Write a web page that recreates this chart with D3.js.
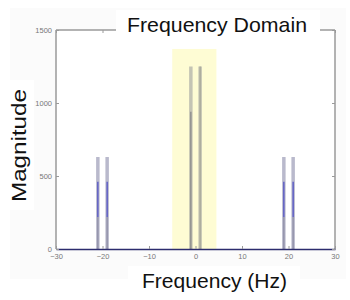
<!DOCTYPE html>
<html>
<head>
<meta charset="utf-8">
<script src="https://cdn.jsdelivr.net/npm/d3@7"></script>
<style>
  body { margin: 0; background: #fff; }
  svg { display: block; }
  text { font-family: "Liberation Sans", Arial, sans-serif; }
</style>
</head>
<body>
<svg id="chart" width="350" height="300"></svg>
<script>
(function(){
    "use strict";

    // peaks of the spectrum
    var peakFreqs = [-21, -19, -1, 1, 19, 21];
    var peakMags  = [630, 630, 1250, 1250, 630, 630];
    // inner (coloured) segment of each stem
    var innerLow  = [0, 0, 0, 0, 0, 0];
    var innerMid  = [220, 220, 940, 1250, 220, 220];
    var innerHigh = [460, 460, 940, 1250, 460, 460];
    var innerKind = ["side", "side", "center", "center", "side", "side"];

    var xTicks = [-30, -20, -10, 0, 10, 20, 30];
    var yTicks = [0, 500, 1000, 1500];

    var highlightBand = [-5, 4.5];
    var highlightTop = 1370;

    var titleText = "Frequency Domain";
    var xLabel = "Frequency (Hz)";
    var yLabel = "Magnitude";

    var svg = d3.select("#chart");

    var left = 56, right = 335, top = 30, bottom = 249;

    var x = d3.scaleLinear().domain([-30, 30]).range([left, right]);
    var y = d3.scaleLinear().domain([0, 1500]).range([bottom, top]);

    // faint figure background, white axes area
    svg.append("rect").attr("x", 10).attr("y", 8).attr("width", 336).attr("height", 271)
        .attr("fill", "#fbfbfb");
    svg.append("rect").attr("x", left).attr("y", top).attr("width", right - left).attr("height", bottom - top)
        .attr("fill", "#fff");

    // highlighted band around 0 Hz
    svg.append("rect")
        .attr("x", x(highlightBand[0]))
        .attr("y", y(highlightTop))
        .attr("width", x(highlightBand[1]) - x(highlightBand[0]))
        .attr("height", y(0) - y(highlightTop))
        .attr("fill", "#fefcd4");

    var peaks = peakFreqs.map(function(f, i){
        return {f: f, m: peakMags[i], lo: innerLow[i], mid: innerMid[i], hi: innerHigh[i], kind: innerKind[i]};
    });

    // outer stem
    svg.selectAll("line.outer")
        .data(peaks)
        .enter().append("line")
        .attr("class", "outer")
        .attr("x1", function(d){ return x(d.f); })
        .attr("x2", function(d){ return x(d.f); })
        .attr("y1", y(0))
        .attr("y2", function(d){ return y(d.m); })
        .attr("stroke", function(d){ return d.kind == "side" ? "#b9b9cc" : "#c4c4b4"; })
        .attr("stroke-width", 3.5);

    // inner lower segment
    svg.selectAll("line.innerlow")
        .data(peaks)
        .enter().append("line")
        .attr("class", "innerlow")
        .attr("x1", function(d){ return x(d.f); })
        .attr("x2", function(d){ return x(d.f); })
        .attr("y1", function(d){ return y(d.lo); })
        .attr("y2", function(d){ return y(d.mid); })
        .attr("stroke", function(d, i){
            if(d.kind == "side") return "#8e8ea6";
            return i == 2 ? "#8a8a8a" : "#a8a89a";
        })
        .attr("stroke-width", 1.3);

    // inner upper (blue) segment of the side peaks
    svg.selectAll("line.innerhigh")
        .data(peaks.filter(function(d){ return d.hi > d.mid; }))
        .enter().append("line")
        .attr("class", "innerhigh")
        .attr("x1", function(d){ return x(d.f); })
        .attr("x2", function(d){ return x(d.f); })
        .attr("y1", function(d){ return y(d.mid); })
        .attr("y2", function(d){ return y(d.hi); })
        .attr("stroke", "#5252c4")
        .attr("stroke-width", 1.3);

    // axes box
    var axisColor = "#9a9a9a";
    svg.append("line").attr("x1", left).attr("x2", left).attr("y1", top).attr("y2", bottom)
        .attr("stroke", axisColor).attr("stroke-width", 1.5);
    svg.append("line").attr("x1", right).attr("x2", right).attr("y1", top).attr("y2", bottom)
        .attr("stroke", axisColor).attr("stroke-width", 1.5);
    svg.append("line").attr("x1", left).attr("x2", right).attr("y1", top).attr("y2", top)
        .attr("stroke", axisColor).attr("stroke-width", 1.5);

    // bottom axis with inward ticks
    var xAxis = d3.axisBottom(x).tickValues(xTicks).tickSizeInner(-3).tickSizeOuter(0).tickPadding(5)
        .tickFormat(d3.format("d"));
    var gx = svg.append("g").attr("transform", "translate(0," + bottom + ")").call(xAxis);
    gx.select(".domain").attr("stroke", "#2c2c6e").attr("stroke-width", 1.5);
    gx.selectAll(".tick line").attr("stroke", axisColor);
    gx.selectAll(".tick text").attr("fill", "#777").style("font-size", "7.5px");

    // top ticks
    var xTop = d3.axisTop(x).tickValues(xTicks).tickSizeInner(-3).tickSizeOuter(0).tickFormat("");
    var gxt = svg.append("g").attr("transform", "translate(0," + top + ")").call(xTop);
    gxt.select(".domain").remove();
    gxt.selectAll(".tick line").attr("stroke", axisColor);

    // left axis
    var yAxis = d3.axisLeft(y).tickValues(yTicks).tickSizeInner(-3).tickSizeOuter(0).tickPadding(4)
        .tickFormat(d3.format("d"));
    var gy = svg.append("g").attr("transform", "translate(" + left + ",0)").call(yAxis);
    gy.select(".domain").remove();
    gy.selectAll(".tick line").attr("stroke", axisColor);
    gy.selectAll(".tick text").attr("fill", "#777").style("font-size", "7.5px");

    // right ticks
    var yRight = d3.axisRight(y).tickValues(yTicks).tickSizeInner(-3).tickSizeOuter(0).tickFormat("");
    var gyr = svg.append("g").attr("transform", "translate(" + right + ",0)").call(yRight);
    gyr.select(".domain").remove();
    gyr.selectAll(".tick line").attr("stroke", axisColor);

    // labels pasted over the figure on white
    svg.append("rect").attr("x", 116).attr("y", 10).attr("width", 204).attr("height", 30).attr("fill", "#fff");
    svg.append("text").attr("x", 127).attr("y", 32)
        .attr("textLength", 180).attr("lengthAdjust", "spacingAndGlyphs")
        .style("font-size", "21px").attr("fill", "#111").text(titleText);

    svg.append("rect").attr("x", 128).attr("y", 266).attr("width", 172).attr("height", 30).attr("fill", "#fff");
    svg.append("text").attr("x", 142).attr("y", 288)
        .attr("textLength", 145).attr("lengthAdjust", "spacingAndGlyphs")
        .style("font-size", "20px").attr("fill", "#111").text(xLabel);

    svg.append("rect").attr("x", 6).attr("y", 80).attr("width", 28).attr("height", 130).attr("fill", "#fff");
    svg.append("text")
        .attr("transform", "translate(26,202) rotate(-90)")
        .attr("textLength", 113).attr("lengthAdjust", "spacingAndGlyphs")
        .style("font-size", "20px").attr("fill", "#111").text(yLabel);
}());
</script>
</body>
</html>
